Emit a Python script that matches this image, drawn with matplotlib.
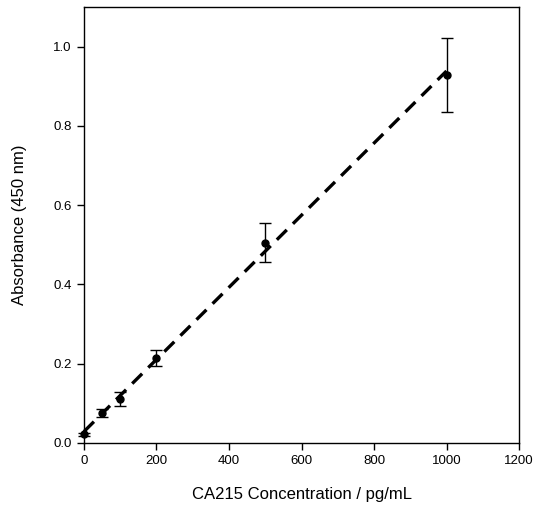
import numpy as np
import matplotlib
matplotlib.use("Agg")
import matplotlib.pyplot as plt

plt.rcParams['font.family'] = ['Liberation Sans', 'DejaVu Sans']

# Calibration data
concentration = [0, 50, 100, 200, 500, 1000]
absorbance = [0.022, 0.076, 0.111, 0.214, 0.505, 0.928]
abs_error = [0.004, 0.010, 0.017, 0.021, 0.049, 0.094]

x_ticks = [0, 200, 400, 600, 800, 1000, 1200]
y_ticks = [0.0, 0.2, 0.4, 0.6, 0.8, 1.0]

fig = plt.figure(figsize=(5.36, 5.12), dpi=100)
ax = fig.add_axes([0.1567, 0.1348, 0.8116, 0.8515])

# Linear least-squares fit
slope, intercept = np.polyfit(concentration, absorbance, 1)
fit_x = np.array([concentration[0], concentration[-1]])
ax.plot(fit_x, slope * fit_x + intercept, color='black', lw=2.4,
        linestyle=(0, (4.2, 2.6)), zorder=2, clip_on=False)

ax.errorbar(concentration, absorbance, yerr=abs_error, fmt='o', color='black',
            ms=5, elinewidth=1, capsize=4.5, capthick=1, zorder=3, clip_on=False)

ax.set_xlim(0, 1200)
ax.set_ylim(0, 1.1)
ax.set_xticks(x_ticks)
ax.set_yticks(y_ticks)
ax.set_yticklabels([f"{v:.1f}" for v in y_ticks])
ax.tick_params(direction='out', length=5, width=1, labelsize=9.5, pad=4)
for s in ax.spines.values():
    s.set_linewidth(1)

ax.set_xlabel("CA215 Concentration / pg/mL", fontsize=12, labelpad=14)
ax.set_ylabel("Absorbance (450 nm)", fontsize=12, labelpad=19)

fig.savefig("out.png", dpi=100)
